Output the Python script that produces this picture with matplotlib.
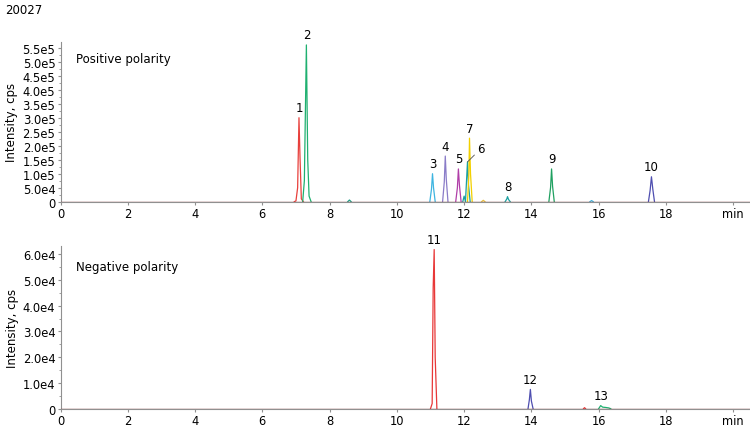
import numpy as np
import matplotlib.pyplot as plt
from matplotlib.ticker import FixedLocator, MultipleLocator

# positive polarity peaks: times (min), intensities (cps)
pos_t = [
    [6.95, 7.00, 7.05, 7.09, 7.12, 7.16, 7.22],
    [7.20, 7.25, 7.31, 7.35, 7.39, 7.45],
    [8.54, 8.59, 8.64],
    [10.98, 11.03, 11.06, 11.09, 11.14],
    [11.36, 11.41, 11.44, 11.47, 11.52],
    [11.75, 11.80, 11.83, 11.86, 11.91],
    [11.96, 12.00, 12.04, 12.10, 12.13, 12.18],
    [12.10, 12.14, 12.16, 12.19, 12.24],
    [12.52, 12.57, 12.62],
    [13.22, 13.27, 13.29, 13.32, 13.37],
    [14.52, 14.57, 14.60, 14.63, 14.68],
    [15.74, 15.79, 15.84],
    [17.48, 17.53, 17.57, 17.61, 17.66],
]
pos_y = [
    [0, 3e3, 5.0e4, 3.0e5, 1.6e5, 1e4, 0],
    [0, 7.5e4, 5.6e5, 1.5e5, 2e4, 0],
    [0, 6e3, 0],
    [0, 4.5e4, 1.0e5, 5.0e4, 0],
    [0, 7.0e4, 1.63e5, 8.0e4, 0],
    [0, 5.0e4, 1.17e5, 6.0e4, 0],
    [0, 2.0e4, 0, 1.42e5, 6.0e4, 0],
    [0, 9.0e4, 2.27e5, 1.0e5, 0],
    [0, 5e3, 0],
    [0, 1.0e4, 1.8e4, 8e3, 0],
    [0, 5.0e4, 1.17e5, 5.5e4, 0],
    [0, 4e3, 0],
    [0, 4.0e4, 8.9e4, 4.5e4, 0],
]
pos_colors = ['#e8403c', '#1fb070', '#1fa088', '#3db4e0', '#8a7cc8', '#b03ea8',
              '#1aa0a0', '#f2d000', '#e8c040', '#1aa0a0', '#1fa060', '#3db4e0',
              '#4e4eb0']

# negative polarity peaks
neg_t = [
    [11.00, 11.05, 11.08, 11.11, 11.14, 11.19],
    [13.90, 13.94, 13.97, 14.00, 14.05],
    [15.55, 15.58, 15.61],
    [16.00, 16.06, 16.12, 16.20, 16.30, 16.36],
]
neg_y = [
    [0, 2.0e3, 4.7e4, 6.18e4, 2.0e4, 0],
    [0, 3.5e3, 7.5e3, 3.0e3, 0],
    [0, 400, 0],
    [0, 1.2e3, 600, 500, 300, 0],
]
neg_colors = ['#e83838', '#4e4eb0', '#e83838', '#1fb070']

# peak labels: (number, time, height)
pos_labels = [('1', 7.10, 3.0e5), ('2', 7.31, 5.6e5), ('3', 11.06, 1.0e5),
              ('4', 11.44, 1.63e5), ('5', 11.83, 1.17e5), ('7', 12.16, 2.27e5),
              ('8', 13.29, 1.8e4), ('9', 14.60, 1.17e5), ('10', 17.57, 8.9e4)]
neg_labels = [('11', 11.10, 6.18e4), ('12', 13.97, 7.5e3), ('13', 16.06, 1.2e3)]

pos_ticks = [0, 5e4, 1e5, 1.5e5, 2e5, 2.5e5, 3e5, 3.5e5, 4e5, 4.5e5, 5e5, 5.5e5]
pos_ticklabels = ['0', '5.0e4', '1.0e5', '1.5e5', '2.0e5', '2.5e5', '3.0e5',
                  '3.5e5', '4.0e5', '4.5e5', '5.0e5', '5.5e5']
neg_ticks = [0, 1e4, 2e4, 3e4, 4e4, 5e4, 6e4]
neg_ticklabels = ['0', '1.0e4', '2.0e4', '3.0e4', '4.0e4', '5.0e4', '6.0e4']
x_ticks = [0, 2, 4, 6, 8, 10, 12, 14, 16, 18, 20]
x_ticklabels = ['0', '2', '4', '6', '8', '10', '12', '14', '16', '18', 'min']

plt.rcParams['font.family'] = 'DejaVu Sans'
plt.rcParams['font.size'] = 8

fig = plt.figure(figsize=(7.5, 4.27), dpi=100)
ax1 = fig.add_axes([0.0807, 0.5253, 0.9193, 0.375])
ax2 = fig.add_axes([0.0807, 0.0405, 0.9193, 0.38])


def style(ax, ticks, ticklabels, ymax):
    ax.set_xlim(0, 20.5)
    ax.set_ylim(0, ymax)
    for s in ['top', 'right']:
        ax.spines[s].set_visible(False)
    ax.spines['left'].set_color('#909090')
    ax.spines['bottom'].set_color('#909090')
    ax.yaxis.set_major_locator(FixedLocator(ticks))
    ax.set_yticklabels(ticklabels)
    ax.yaxis.set_minor_locator(MultipleLocator((ticks[1] - ticks[0]) / 2))
    ax.xaxis.set_major_locator(FixedLocator(x_ticks))
    ax.set_xticklabels(x_ticklabels)
    ax.tick_params(axis='both', which='major', length=2.5, width=0.8,
                   color='#909090', pad=1.2, labelsize=8.3)
    ax.tick_params(axis='y', which='minor', length=1.5, color='#909090')
    ax.set_ylabel('Intensity, cps', fontsize=8.5, labelpad=3)
    ax.axhline(0, color='#8b4444', lw=1.0, zorder=5)


style(ax1, pos_ticks, pos_ticklabels, 5.72e5)
style(ax2, neg_ticks, neg_ticklabels, 6.3e4)

for t, y, c in zip(pos_t, pos_y, pos_colors):
    ax1.plot(t, y, color=c, lw=0.9)
for t, y, c in zip(neg_t, neg_y, neg_colors):
    ax2.plot(t, y, color=c, lw=0.9)

for lab, t, h in pos_labels:
    ax1.annotate(lab, (t, h), xytext=(0, 2.5), textcoords='offset points',
                 ha='center', va='bottom', fontsize=8.5)
ax1.annotate('6', (12.10, 1.42e5), xytext=(7, 5), textcoords='offset points',
             ha='left', va='bottom', fontsize=8.5,
             arrowprops=dict(arrowstyle='-', color='#505050', lw=0.6,
                             shrinkA=0, shrinkB=0))
for lab, t, h in neg_labels:
    ax2.annotate(lab, (t, h), xytext=(0, 2.5), textcoords='offset points',
                 ha='center', va='bottom', fontsize=8.5)

ax1.text(0.022, 0.87, 'Positive polarity', transform=ax1.transAxes, fontsize=8.5)
ax2.text(0.022, 0.855, 'Negative polarity', transform=ax2.transAxes, fontsize=8.5)
fig.text(0.007, 0.99, '20027', ha='left', va='top', fontsize=8.5)

fig.savefig('out.png', dpi=100)
